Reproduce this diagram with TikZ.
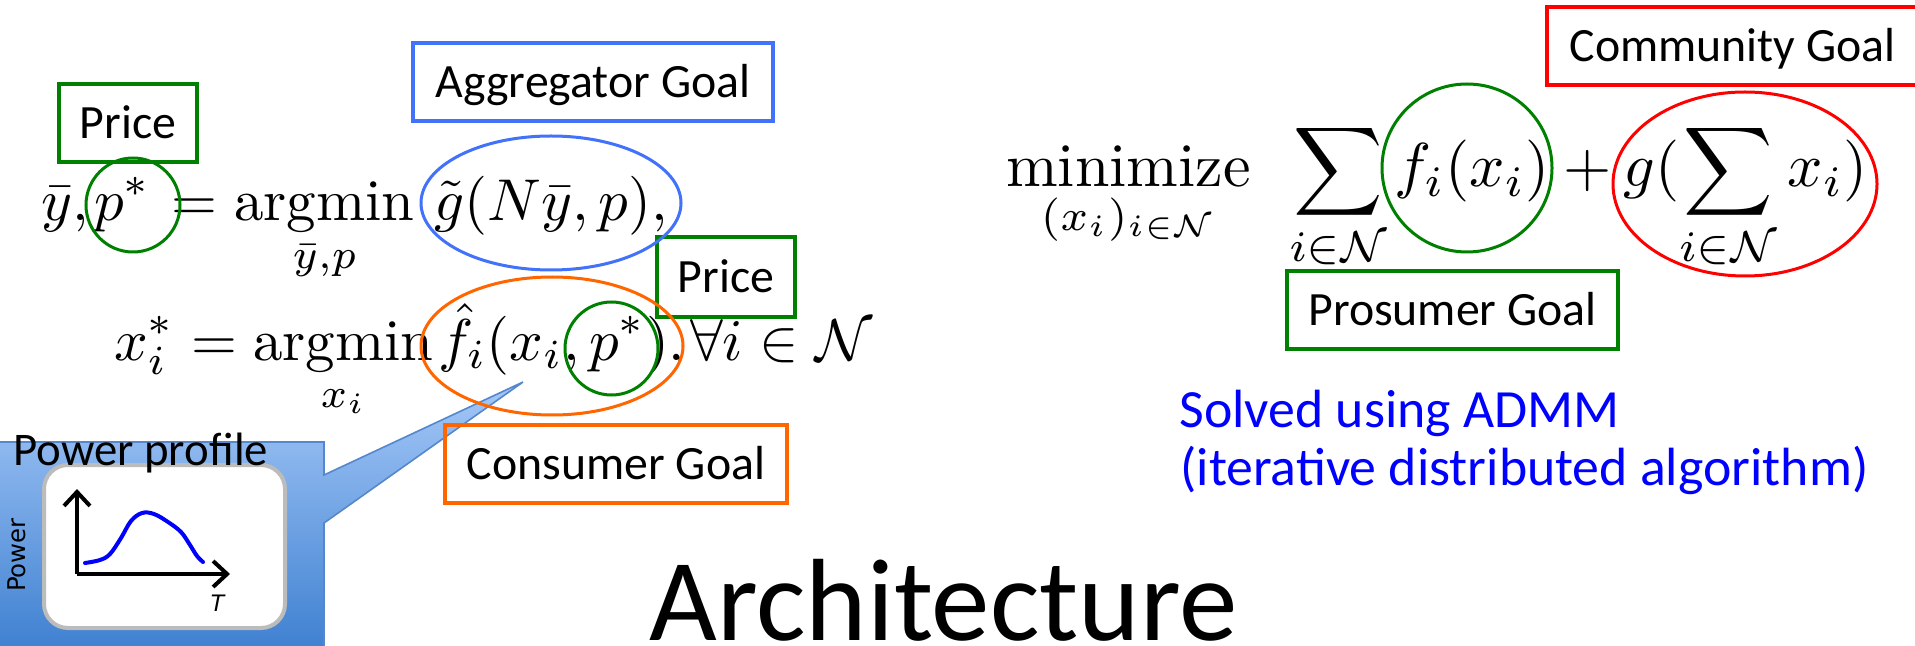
\RequirePackage{fix-cm}
\documentclass[tikz,border=0pt]{standalone}
\usepackage{amsmath}
\usepackage{fontspec}
\newfontfamily\calibri{Carlito}
\newfontfamily\dejavu{DejaVu Sans}
\newfontfamily\libsans{Liberation Sans}
\usetikzlibrary{shapes.geometric,arrows.meta}
\definecolor{pgreen}{RGB}{0,128,0}
\definecolor{pblue}{RGB}{66,114,250}
\definecolor{porange}{RGB}{255,102,0}
\definecolor{pred}{RGB}{255,0,0}
\definecolor{tblue}{RGB}{0,0,255}
\definecolor{calltop}{RGB}{165,200,248}
\definecolor{callbot}{RGB}{62,128,208}
\definecolor{callrim}{RGB}{85,135,205}
\definecolor{plotrim}{RGB}{188,188,188}
\begin{document}
\begin{tikzpicture}[x=0.5pt,y=-0.5pt,
  lbl/.style={draw, line width=1.6pt, font=\calibri\fontsize{23.9}{28}\selectfont,
    text height=15.4pt, text depth=0pt, inner sep=0pt, minimum height=39pt},
  ring/.style={ellipse, draw, line width=1.5pt, inner sep=0pt},
  eqL/.style={font=\fontsize{10}{12}\selectfont, inner sep=0pt, anchor=base west, scale=2.95, transform shape},
  eqR/.style={font=\fontsize{10}{12}\selectfont, inner sep=0pt, anchor=base west, scale=3.1, transform shape},
  axis/.style={line width=2pt, -{Straight Barb[length=7pt,width=13pt]}}]
\useasboundingbox (0,0) rectangle (1915,646);
\fill[white] (0,0) rectangle (1915,646);

% callout
\coordinate (tip) at (523,382);
\path[top color=calltop, bottom color=callbot, draw=callrim, line width=0.8pt]
  (-5,442) -- (324,442) -- (324,475) -- (tip) -- (324,523) -- (324,652) -- (-5,652) -- cycle;
\node[draw=plotrim, fill=white, line width=2pt, rounded corners=12pt,
  minimum width=120.5pt, minimum height=81.5pt, inner sep=0pt] (plot) at (164.5,546.5) {};
\node[font=\calibri\fontsize{23.4}{28}\selectfont, anchor=base west, inner sep=0pt] (pp) at (13,465) {Power profile};
\coordinate (o) at (77,574);
\coordinate (ytop) at (77,489);
\coordinate (xend) at (230,574);
\draw[axis] (o) -- (ytop);
\draw[axis] (o) -- (xend);
\draw[tblue, line width=2pt, line cap=round] plot[smooth, tension=0.6] coordinates
  {(85,563) (100,560) (110,554) (121,538) (131,521) (142,513) (154,514) (168,522) (181,532) (190,545) (197,556) (203,562)};
\node[font=\dejavu\fontsize{12.2}{14}\selectfont, rotate=90, inner sep=0pt] (powlab) at (17,555) {Power};
\node[font=\libsans\itshape\fontsize{12}{14}\selectfont, inner sep=0pt] (tlab) at (217,603) {T};

% label boxes
\node[lbl, draw=pgreen, minimum width=69pt] (price1) at (128,123) {Price};
\node[lbl, draw=pblue, minimum width=180pt] (aggr) at (593,82) {Aggregator Goal};
\node[lbl, draw=pgreen, minimum width=69pt, minimum height=40pt] (price2) at (726,277) {Price};
\node[lbl, draw=porange, minimum width=171pt] (cons) at (616,464) {Consumer Goal};
\node[lbl, draw=pred, minimum width=185.5pt] (comm) at (1732.5,46) {Community Goal};
\node[lbl, draw=pgreen, minimum width=165.5pt] (pros) at (1452.5,310) {Prosumer Goal};

% equation 1
\node[eqL] (e1a) at (40,221) {$\displaystyle \bar{y},$};
\node[eqL] (e1b) at (93,221) {$\displaystyle p^{*}$};
\node[eqL] (e1c) at (170,221) {$=$};
\node[eqL] (e1d) at (233,221) {$\displaystyle\operatorname*{argmin}_{\bar{y},p}$};
\node[eqL] (e1e) at (433,221) {$\displaystyle\tilde{g}(N\bar{y},p),$};
% equation 2
\node[eqL] (e2a) at (113,360) {$\displaystyle x_{i}^{*}$};
\node[eqL] (e2b) at (190,360) {$=$};
\node[eqL] (e2c) at (252,360) {$\displaystyle\operatorname*{argmin}_{x_{i}}$};
\node[eqL] (e2d) at (437,360) {$\displaystyle\hat{f}_{i}(x_{i},p^{*}),$};
\node[eqL] (e2e) at (689,360) {$\displaystyle\forall i\in\mathcal{N}$};
% right equation
\node[eqR] (r1) at (1005,187) {$\displaystyle\operatorname*{minimize}_{(x_{i})_{i\in\mathcal{N}}}$};
\node[eqR] (r2) at (1288,187) {$\displaystyle\sum_{i\in\mathcal{N}}$};
\node[eqR] (r3) at (1393,187) {$\displaystyle f_{i}(x_{i})$};
\node[eqR] (r4) at (1562,187) {$+$};
\node[eqR] (r5) at (1622,187) {$\displaystyle g(\sum_{i\in\mathcal{N}}x_{i})$};

% rings
\node[ring, draw=pgreen, minimum width=47pt, minimum height=47pt] (ring1) at (133,205) {};
\node[ring, draw=pblue, minimum width=130pt, minimum height=67pt] (ring2) at (551,203) {};
\node[ring, draw=porange, minimum width=131pt, minimum height=69pt] (ring3) at (552,346) {};
\node[ring, draw=pgreen, minimum width=46.5pt, minimum height=46.5pt] (ring4) at (611.5,348.5) {};
\node[ring, draw=pgreen, minimum width=85pt, minimum height=84pt] (ring5) at (1467,168) {};
\node[ring, draw=pred, minimum width=132pt, minimum height=92pt] (ring6) at (1745,184) {};

% texts
\node[font=\calibri\fontsize{26.9}{32}\selectfont, text=tblue, anchor=base west, inner sep=0pt] (s1) at (1179,427) {Solved using ADMM};
\node[font=\calibri\fontsize{26.9}{32}\selectfont, text=tblue, anchor=base west, inner sep=0pt] (s2) at (1180,485) {(iterative distributed algorithm)};
\node[font=\calibri\fontsize{58.5}{68}\selectfont, anchor=base west, inner sep=0pt] (title) at (649,640) {Architecture};
\end{tikzpicture}
\end{document}
